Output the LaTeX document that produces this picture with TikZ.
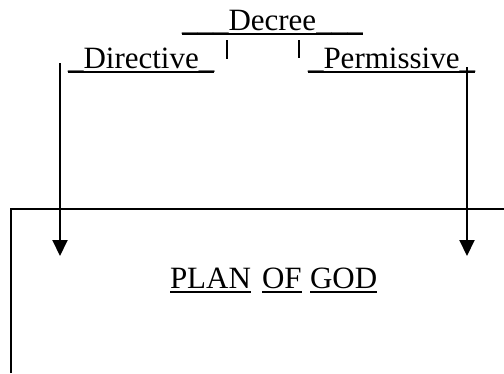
\documentclass[tikz,border=0pt]{standalone}
\usepackage{fontspec}
\setmainfont{Liberation Serif}
\usetikzlibrary{arrows.meta}
\tikzset{
  lbl/.style={anchor=base west, inner sep=0pt, outer sep=0pt, font=\fontsize{31}{36}\selectfont},
  uline/.style={line width=1.6pt},
  frame/.style={line width=2pt},
  tick/.style={line width=1.4pt},
  arr/.style={line width=2pt, -{Triangle[length=16pt,width=15pt]}}
}
\begin{document}
\begin{tikzpicture}[x=1pt,y=-1pt]
\useasboundingbox (0,0) rectangle (504,373);
% texts
\node[lbl] (dec) at (182,30) {\_\_\_Decree\_\_\_};
\node[lbl] (dir) at (68,68) {\_Directive\_};
\node[lbl] (per) at (308,68) {\_Permissive\_};
\node[lbl] (p1) at (170,288) {PLAN};
\node[lbl] (p2) at (262,288) {OF};
\node[lbl] (p3) at (310,288) {GOD};
% underlines
\foreach \n in {dec,dir,per,p1,p2,p3}
  \draw[uline] ([yshift=-4pt]\n.base west) -- ([yshift=-4pt]\n.base east);
% ticks
\coordinate (t1a) at (227,40); \coordinate (t1b) at (227,59);
\coordinate (t2a) at (299,40); \coordinate (t2b) at (299,58);
\draw[tick] (t1a) -- (t1b);
\draw[tick] (t2a) -- (t2b);
% frame
\coordinate (fb) at (11,373); \coordinate (fc) at (11,209); \coordinate (fr) at (504,209);
\draw[frame] (fb) -- (fc) -- (fr);
% arrows
\coordinate (la) at (60,63); \coordinate (lb) at (60,256);
\coordinate (ra) at (467,67); \coordinate (rb) at (467,256);
\draw[arr] (la) -- (lb);
\draw[arr] (ra) -- (rb);
\end{tikzpicture}
\end{document}
